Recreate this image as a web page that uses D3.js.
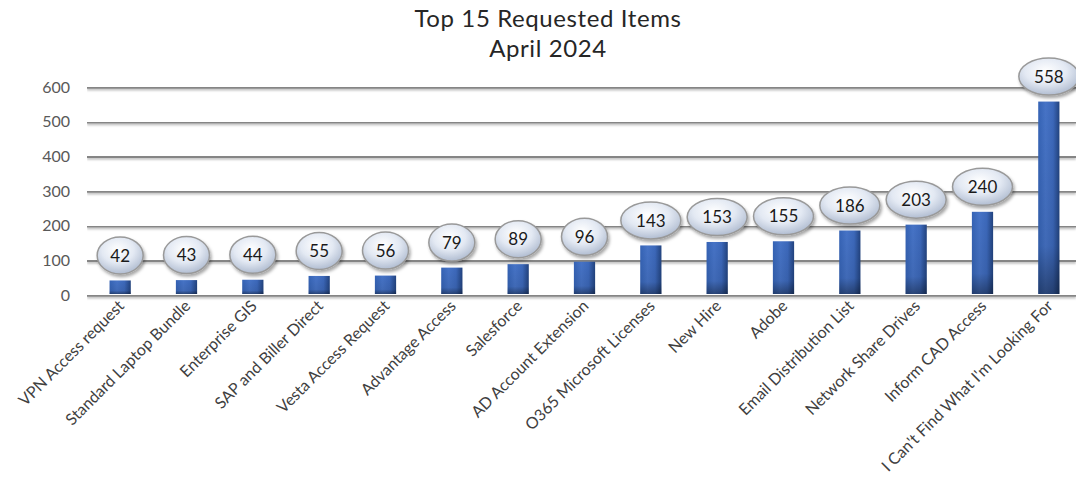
<!DOCTYPE html>
<html><head><meta charset="utf-8">
<script src="https://cdn.jsdelivr.net/npm/d3@7"></script>
<style>body{margin:0;background:#fff;} svg{display:block;}</style>
</head><body>
<svg id="chart" width="1076" height="479"></svg>
<script>
const categories = ["VPN Access request","Standard Laptop Bundle","Enterprise GIS","SAP and Biller Direct","Vesta Access Request","Advantage Access","Salesforce","AD Account Extension","O365 Microsoft Licenses","New Hire","Adobe","Email Distribution List","Network Share Drives","Inform CAD Access","I Can't Find What I'm Looking For"];
const values = [42,43,44,55,56,79,89,96,143,153,155,186,203,240,558];
const yTicks = [0,100,200,300,400,500,600];
const titleLines = ["Top 15 Requested Items","April 2024"];

const svg = d3.select("#chart");
const font = "Lato, 'Open Sans', sans-serif";
const defs = svg.append("defs");

const bg = defs.append("linearGradient").attr("id","barGrad").attr("x1","0").attr("x2","1").attr("y1","0").attr("y2","0");
bg.append("stop").attr("offset","0%").attr("stop-color","#3563b5");
bg.append("stop").attr("offset","35%").attr("stop-color","#4673c6");
bg.append("stop").attr("offset","70%").attr("stop-color","#3c68ba");
bg.append("stop").attr("offset","100%").attr("stop-color","#22437f");
const bgv = defs.append("linearGradient").attr("id","barShade").attr("gradientUnits","objectBoundingBox").attr("x1","0").attr("x2","0").attr("y1","0").attr("y2","1");
bgv.append("stop").attr("offset","0%").attr("stop-color","#000").attr("stop-opacity",0);
bgv.append("stop").attr("offset","75%").attr("stop-color","#000").attr("stop-opacity",0.08);
bgv.append("stop").attr("offset","100%").attr("stop-color","#000").attr("stop-opacity",0.4);

const eg = defs.append("radialGradient").attr("id","ellGrad").attr("cx","0.45").attr("cy","0.35").attr("r","0.7");
eg.append("stop").attr("offset","0%").attr("stop-color","#ffffff");
eg.append("stop").attr("offset","50%").attr("stop-color","#e3e9f3");
eg.append("stop").attr("offset","100%").attr("stop-color","#a9b6cc");

const sh = defs.append("filter").attr("id","shadow").attr("x","-30%").attr("y","-30%").attr("width","170%").attr("height","180%");
sh.append("feDropShadow").attr("dx",1.5).attr("dy",2.5).attr("stdDeviation",1.8).attr("flood-color","#000").attr("flood-opacity",0.35);
const lsh = defs.append("filter").attr("id","lineShadow").attr("filterUnits","userSpaceOnUse").attr("x",0).attr("y",0).attr("width",1076).attr("height",479);
lsh.append("feDropShadow").attr("dx",0).attr("dy",1.5).attr("stdDeviation",1).attr("flood-color","#000").attr("flood-opacity",0.3);

const x = d3.scaleBand().domain(categories).range([87,1082]).paddingInner(0.68).paddingOuter(0.34);
const y = d3.scaleLinear().domain([0,600]).range([295,87]);

// title
svg.append("g").selectAll("text").data(titleLines).join("text")
  .attr("x",548).attr("y",(d,i)=>27+i*30).attr("text-anchor","middle")
  .attr("font-family",font).attr("font-size",24).attr("letter-spacing",0.6).attr("fill","#262626").text(d=>d);

// gridlines + y labels
const yAxis = d3.axisLeft(y).tickValues(yTicks).tickSize(-(1076-87)).tickPadding(17).tickFormat(d3.format("d"));
const ga = svg.append("g").attr("transform","translate(87,0)").call(yAxis);
ga.select(".domain").remove();
ga.selectAll(".tick line").attr("stroke","#858585").attr("stroke-width",2.5).attr("filter","url(#lineShadow)");
ga.selectAll(".tick text").attr("font-family",font).attr("font-size",16).attr("fill","#595959");

// bars
const bw = x.bandwidth();
const bars = svg.append("g");
bars.selectAll("rect.b").data(values).join("rect").attr("class","b")
  .attr("x",(d,i)=>x(categories[i])).attr("width",bw)
  .attr("y",d=>y(d)).attr("height",d=>y(0)-y(d)-1).attr("fill","url(#barGrad)");
bars.selectAll("rect.s").data(values).join("rect").attr("class","s")
  .attr("x",(d,i)=>x(categories[i])).attr("width",bw)
  .attr("y",d=>y(d)).attr("height",d=>y(0)-y(d)-1).attr("fill","url(#barShade)");

// labels (ellipses)
const lg = svg.append("g");
const lbl = lg.selectAll("g").data(values).join("g")
  .attr("transform",(d,i)=>`translate(${x(categories[i])+bw/2},${y(d)-25})`);
lbl.append("ellipse").attr("rx",d=>String(d).length>2?30:23).attr("ry",18.5).attr("fill","url(#ellGrad)")
  .attr("stroke","#999").attr("stroke-width",1.5).attr("filter","url(#shadow)");
lbl.append("text").attr("text-anchor","middle").attr("dy","0.36em")
  .attr("font-family",font).attr("font-size",17).attr("fill","#1a1a1a").text(d=>d);

// x labels
const xl = svg.append("g");
xl.selectAll("text").data(categories).join("text")
  .attr("transform",d=>`translate(${x(d)+bw/2+5},${307}) rotate(-45)`)
  .attr("text-anchor","end").attr("font-family",font).attr("font-size",16).attr("fill","#404040").text(d=>d);
</script>
</body></html>
